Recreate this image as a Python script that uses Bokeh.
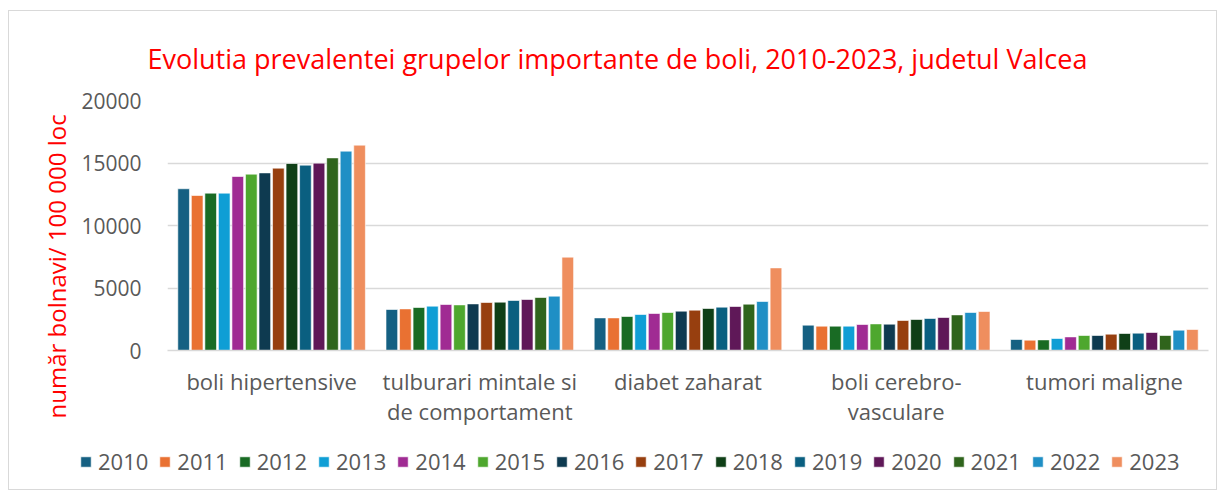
from bokeh.plotting import figure
from bokeh.layouts import column
from bokeh.models import FactorRange, Range1d, Legend, LegendItem, Title, SingleIntervalTicker
from bokeh.transform import dodge
from bokeh.embed import file_html
from bokeh.resources import INLINE

categories = ["boli hipertensive", "tulburari mintale si\nde comportament", "diabet zaharat",
              "boli cerebro-\nvasculare", "tumori maligne"]
years = ["2010", "2011", "2012", "2013", "2014", "2015", "2016",
         "2017", "2018", "2019", "2020", "2021", "2022", "2023"]

v2010 = [12940, 3280, 2610, 2030, 880]
v2011 = [12400, 3330, 2610, 1950, 830]
v2012 = [12590, 3440, 2720, 1950, 850]
v2013 = [12590, 3550, 2880, 1950, 960]
v2014 = [13920, 3680, 2960, 2080, 1090]
v2015 = [14110, 3650, 3040, 2130, 1200]
v2016 = [14210, 3730, 3150, 2110, 1200]
v2017 = [14590, 3840, 3230, 2400, 1310]
v2018 = [14960, 3870, 3360, 2480, 1360]
v2019 = [14830, 4000, 3470, 2560, 1390]
v2020 = [14990, 4080, 3520, 2640, 1440]
v2021 = [15410, 4240, 3710, 2850, 1200]
v2022 = [15950, 4350, 3920, 3040, 1630]
v2023 = [16430, 7470, 6610, 3120, 1680]
series = [v2010, v2011, v2012, v2013, v2014, v2015, v2016,
          v2017, v2018, v2019, v2020, v2021, v2022, v2023]

colors = ["#156082", "#E97132", "#196B24", "#0F9ED5", "#A02B93", "#4EA72E", "#0E3A50",
          "#973F0F", "#0F3F17", "#0A5F80", "#5F1858", "#2F641C", "#1F8FC5", "#EF8E5E"]

FONT = "Open Sans"
GRAY = "#595959"

p = figure(x_range=FactorRange(factors=categories, range_padding=0),
           y_range=Range1d(0, 20000),
           frame_width=1041, frame_height=250, output_backend="svg", toolbar_location=None,
           min_border_left=158, min_border_right=8, min_border_top=89, min_border_bottom=78)
p.frame_align = False

p.title = Title(text="Evolutia prevalentei grupelor importante de boli, 2010-2023, judetul Valcea",
                align="left", text_color="#FF0000", text_font=FONT, text_font_size="27px",
                text_font_style="normal", offset=-20, standoff=48)

data = {"cat": categories}
for y, s in zip(years, series):
    data[y] = s

pitch = 0.065
for i, (y, c) in enumerate(zip(years, colors)):
    p.vbar(x=dodge("cat", (i - 6.5) * pitch, range=p.x_range), top=y, width=0.056,
           source=data, fill_color=c, line_color="white", line_width=0.6)

p.yaxis.ticker = SingleIntervalTicker(interval=5000)
p.yaxis.axis_line_color = None
p.yaxis.major_tick_line_color = None
p.yaxis.minor_tick_line_color = None
p.yaxis.major_label_text_font = FONT
p.yaxis.major_label_text_font_size = "21px"
p.yaxis.major_label_text_color = GRAY
p.yaxis.major_label_standoff = 20

p.xaxis.axis_line_color = "#D9D9D9"
p.xaxis.axis_line_width = 1.5
p.xaxis.major_tick_line_color = None
p.xaxis.minor_tick_line_color = None
p.xaxis.major_label_text_font = FONT
p.xaxis.major_label_text_font_size = "22px"
p.xaxis.major_label_text_color = GRAY
p.xaxis.major_label_text_line_height = 1.0
p.xaxis.major_label_standoff = 9

p.xgrid.grid_line_color = None
p.ygrid.grid_line_color = "#D9D9D9"
p.ygrid.grid_line_width = 1.5
p.outline_line_color = None

ylab = Title(text="număr bolnavi/ 100 000 loc", align="left", text_color="#FF0000",
             text_font=FONT, text_font_size="24px", text_font_style="normal", offset=-68, standoff=11)
p.add_layout(ylab, "left")

# legend strip below the chart
lg = figure(x_range=FactorRange(factors=categories), y_range=Range1d(0, 20000),
            width=1207, height=61, output_backend="svg", toolbar_location=None,
            min_border_left=0, min_border_right=0, min_border_top=0, min_border_bottom=0)
lg.frame_align = False
lg.axis.visible = False
lg.grid.grid_line_color = None
lg.outline_line_color = None
items = []
for i, (y, c) in enumerate(zip(years, colors)):
    r = lg.vbar(x=dodge("cat", (i - 6.5) * pitch, range=lg.x_range), top=y, width=0.056,
                source=data, fill_color=c, line_color="white", line_width=0.6, visible=False)
    items.append(LegendItem(label=y, renderers=[r]))

legend = Legend(items=items, orientation="horizontal", location=(70, 13),
                label_text_font=FONT, label_text_font_size="22px", label_text_color=GRAY,
                glyph_width=13, glyph_height=13, spacing=10, label_standoff=6, label_height=20,
                border_line_color=None, background_fill_alpha=0, margin=0, padding=0)
lg.add_layout(legend, "center")

layout = column(p, lg, spacing=0)
layout.styles = {"border": "1px solid #D9D9D9", "margin-left": "8px", "margin-top": "10px"}

open("out.html", "w").write(file_html(layout, INLINE))
